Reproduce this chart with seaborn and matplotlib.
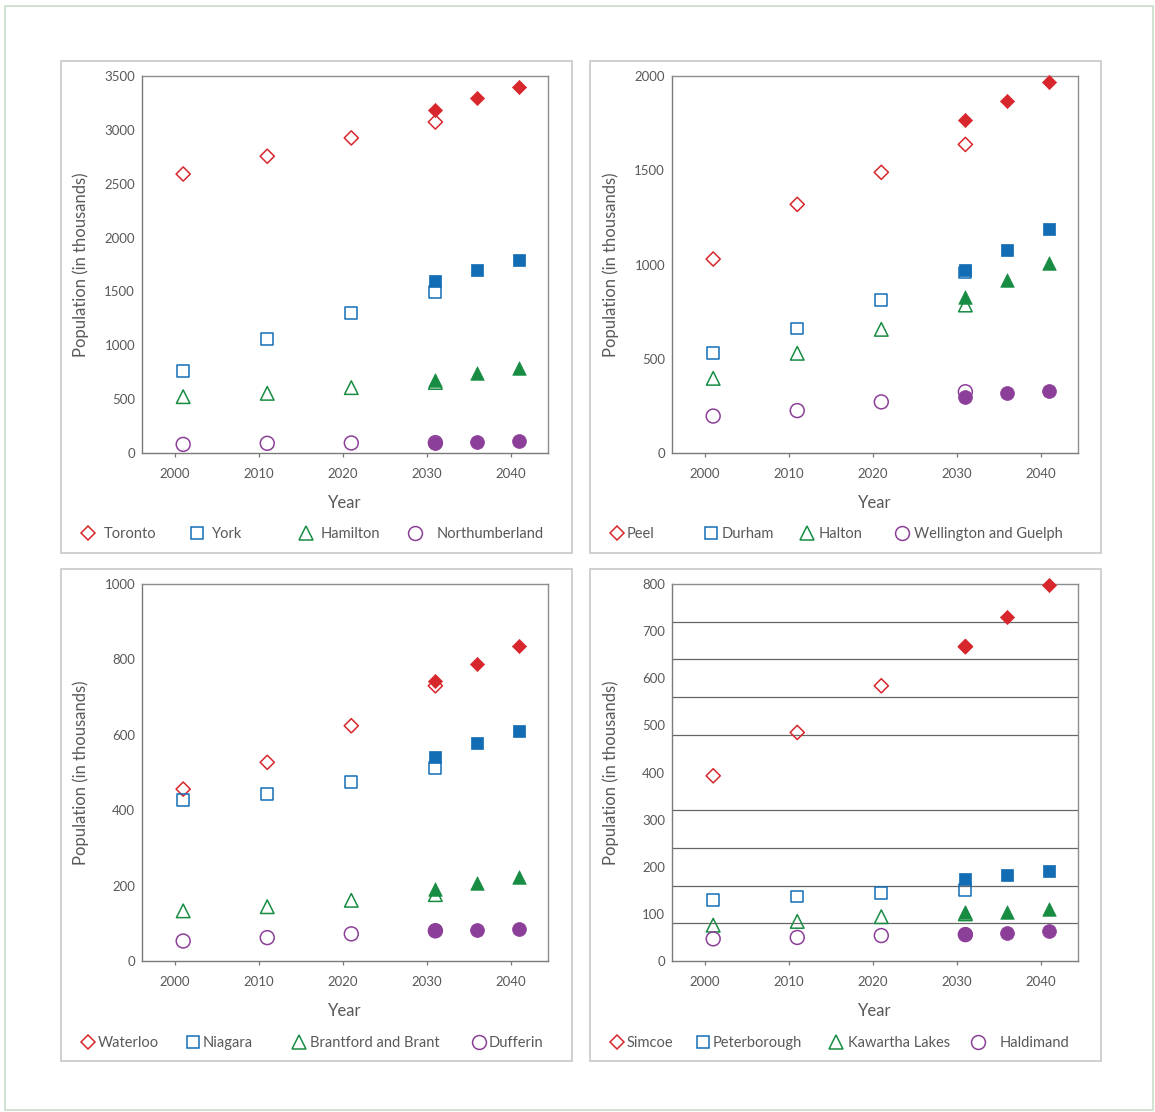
import numpy as np
import matplotlib
matplotlib.use("Agg")
import matplotlib.pyplot as plt
import seaborn as sns
from matplotlib.lines import Line2D
from matplotlib.legend import Legend
from matplotlib.patches import Rectangle

sns.set_theme(style="white")
plt.rcParams['font.family'] = ['Lato', 'DejaVu Sans']

# -------------------------------
# Data (population in thousands)
# -------------------------------
hist_years = [2001, 2011, 2021, 2031]
proj_years = [2031, 2036, 2041]

# panel 1
toronto_hist = [2590, 2755, 2925, 3073]
toronto_proj = [3188, 3299, 3401]
york_hist = [761, 1058, 1297, 1498]
york_proj = [1594, 1699, 1792]
hamilton_hist = [523, 554, 607, 655]
hamilton_proj = [680, 740, 789]
northumberland_hist = [80, 90, 93, 96]
northumberland_proj = [97, 105, 111]

# panel 2
peel_hist = [1029, 1319, 1489, 1637]
peel_proj = [1768, 1867, 1968]
durham_hist = [529, 660, 812, 957]
durham_proj = [971, 1077, 1188]
halton_hist = [396, 529, 656, 785]
halton_proj = [826, 918, 1006]
wellington_hist = [196, 225, 271, 325]
wellington_proj = [299, 317, 331]

# panel 3
waterloo_hist = [456, 527, 624, 730]
waterloo_proj = [742, 789, 835]
niagara_hist = [427, 442, 474, 512]
niagara_proj = [542, 578, 611]
brantford_hist = [133, 144, 161, 176]
brantford_proj = [192, 208, 223]
dufferin_hist = [53, 62, 72, 80]
dufferin_proj = [81, 81, 86]

# panel 4
simcoe_hist = [393, 485, 584, 667]
simcoe_proj = [668, 731, 797]
peterborough_hist = [130, 137, 145, 150]
peterborough_proj = [174, 182, 191]
kawartha_hist = [76, 84, 94, 100]
kawartha_proj = [103, 104, 110]
haldimand_hist = [47, 50, 54, 56]
haldimand_proj = [57, 60, 64]

panel_names = [
    ["Toronto", "York", "Hamilton", "Northumberland"],
    ["Peel", "Durham", "Halton", "Wellington and Guelph"],
    ["Waterloo", "Niagara", "Brantford and Brant", "Dufferin"],
    ["Simcoe", "Peterborough", "Kawartha Lakes", "Haldimand"],
]
panel_hist = [
    [toronto_hist, york_hist, hamilton_hist, northumberland_hist],
    [peel_hist, durham_hist, halton_hist, wellington_hist],
    [waterloo_hist, niagara_hist, brantford_hist, dufferin_hist],
    [simcoe_hist, peterborough_hist, kawartha_hist, haldimand_hist],
]
panel_proj = [
    [toronto_proj, york_proj, hamilton_proj, northumberland_proj],
    [peel_proj, durham_proj, halton_proj, wellington_proj],
    [waterloo_proj, niagara_proj, brantford_proj, dufferin_proj],
    [simcoe_proj, peterborough_proj, kawartha_proj, haldimand_proj],
]
panel_ymax = [3500, 2000, 1000, 800]
panel_ystep = [500, 500, 200, 100]
panel_gridstep = [500, 500, 200, 80]

# -------------------------------
# Styles
# -------------------------------
markers = ["D", "s", "^", "o"]
sizes = [52, 72, 95, 100]
colors = ["#d7262c", "#136db4", "#178c42", "#8c3f98"]
text_col = "#595959"

# legend layout: marker centre and text start (pixels)
legend_marker_px = [[88, 197, 306, 415], [617, 711, 807, 902],
                    [88, 193, 299, 479], [617, 703, 836, 978]]
legend_text_px = [[104, 212, 321, 437], [627, 722, 819, 914],
                  [98, 203, 310, 489], [627, 713, 848, 1000]]

W, H = 1155, 1112
fig = plt.figure(figsize=(W / 100, H / 100), dpi=100)

# outer and panel frames
fig.patches.append(Rectangle((5 / W, 1 - 1110 / H), 1148 / W, 1104 / H,
                             transform=fig.transFigure, fill=False,
                             edgecolor="#c9ddc9", linewidth=1.2))
frames = [(61, 61, 572, 553), (590, 61, 1101, 553),
          (61, 569, 572, 1061), (590, 569, 1101, 1061)]
for x0, y0, x1, y1 in frames:
    fig.patches.append(Rectangle((x0 / W, 1 - y1 / H), (x1 - x0) / W, (y1 - y0) / H,
                                 transform=fig.transFigure, fill=False,
                                 edgecolor="#c8c8c8", linewidth=1.2))

ax_pos = [(142, 453), (672, 453), (142, 961), (672, 961)]
ax_w, ax_h = 406, 377

for i in range(4):
    left_px, bottom_px = ax_pos[i]
    ax = fig.add_axes([left_px / W, 1 - bottom_px / H, ax_w / W, ax_h / H])

    for j in range(4):
        sns.scatterplot(x=hist_years, y=panel_hist[i][j], ax=ax, marker=markers[j],
                        s=sizes[j], facecolor="none", edgecolor=colors[j],
                        linewidth=1.1, zorder=3, clip_on=False)
        sns.scatterplot(x=proj_years, y=panel_proj[i][j], ax=ax, marker=markers[j],
                        s=sizes[j], color=colors[j], edgecolor=colors[j],
                        linewidth=0.5, zorder=4, clip_on=False)

    ymax = panel_ymax[i]
    ax.set_xlim(1996.1, 2044.4)
    ax.set_ylim(0, ymax)
    ax.set_xticks([2000, 2010, 2020, 2030, 2040])
    ax.set_yticks(np.arange(0, ymax + 1, panel_ystep[i]))
    ax.set_yticks(np.arange(panel_gridstep[i], ymax, panel_gridstep[i]), minor=True)
    ax.yaxis.grid(True, which="minor", color="#666666", linewidth=0.9)
    ax.yaxis.grid(False, which="major")
    ax.set_axisbelow(True)

    ax.tick_params(axis="x", direction="out", length=3, width=0.9, color="#777777",
                   labelsize=9.5, labelcolor=text_col, pad=8, bottom=True)
    ax.tick_params(axis="y", which="both", length=0, labelsize=9.5,
                   labelcolor=text_col, pad=5)

    for side in ["left", "bottom"]:
        ax.spines[side].set_color("#7a7a7a")
        ax.spines[side].set_linewidth(1.0)
    for side in ["top", "right"]:
        ax.spines[side].set_color("#8c8c8c")
        ax.spines[side].set_linewidth(1.0)

    ax.set_xlabel("Year", fontsize=12, color=text_col)
    ax.set_ylabel("Population (in thousands)", fontsize=12, color=text_col)
    ax.xaxis.set_label_coords(0.5, -0.112)
    ax.yaxis.set_label_coords(-0.13, 0.5)

    # legend entries
    leg_y_px = 534 if i < 2 else 1043
    em = 10.5 * 100 / 72
    for j in range(4):
        mc = legend_marker_px[i][j]
        ts = legend_text_px[i][j]
        handle = Line2D([], [], marker=markers[j], linestyle="none",
                        markersize=np.sqrt(sizes[j]), markerfacecolor="none",
                        markeredgecolor=colors[j], markeredgewidth=1.1)
        xa = (mc - em / 2 - left_px) / ax_w
        ya = (bottom_px - leg_y_px) / ax_h
        leg = Legend(ax, [handle], [panel_names[i][j]], loc="center left",
                     bbox_to_anchor=(xa, ya), bbox_transform=ax.transAxes,
                     frameon=False, fontsize=10.5, handlelength=1.0,
                     handletextpad=max((ts - mc - em / 2) / em, 0.0),
                     borderpad=0, borderaxespad=0, labelcolor=text_col)
        ax.add_artist(leg)

fig.savefig("out.png", dpi=100, facecolor="white")
